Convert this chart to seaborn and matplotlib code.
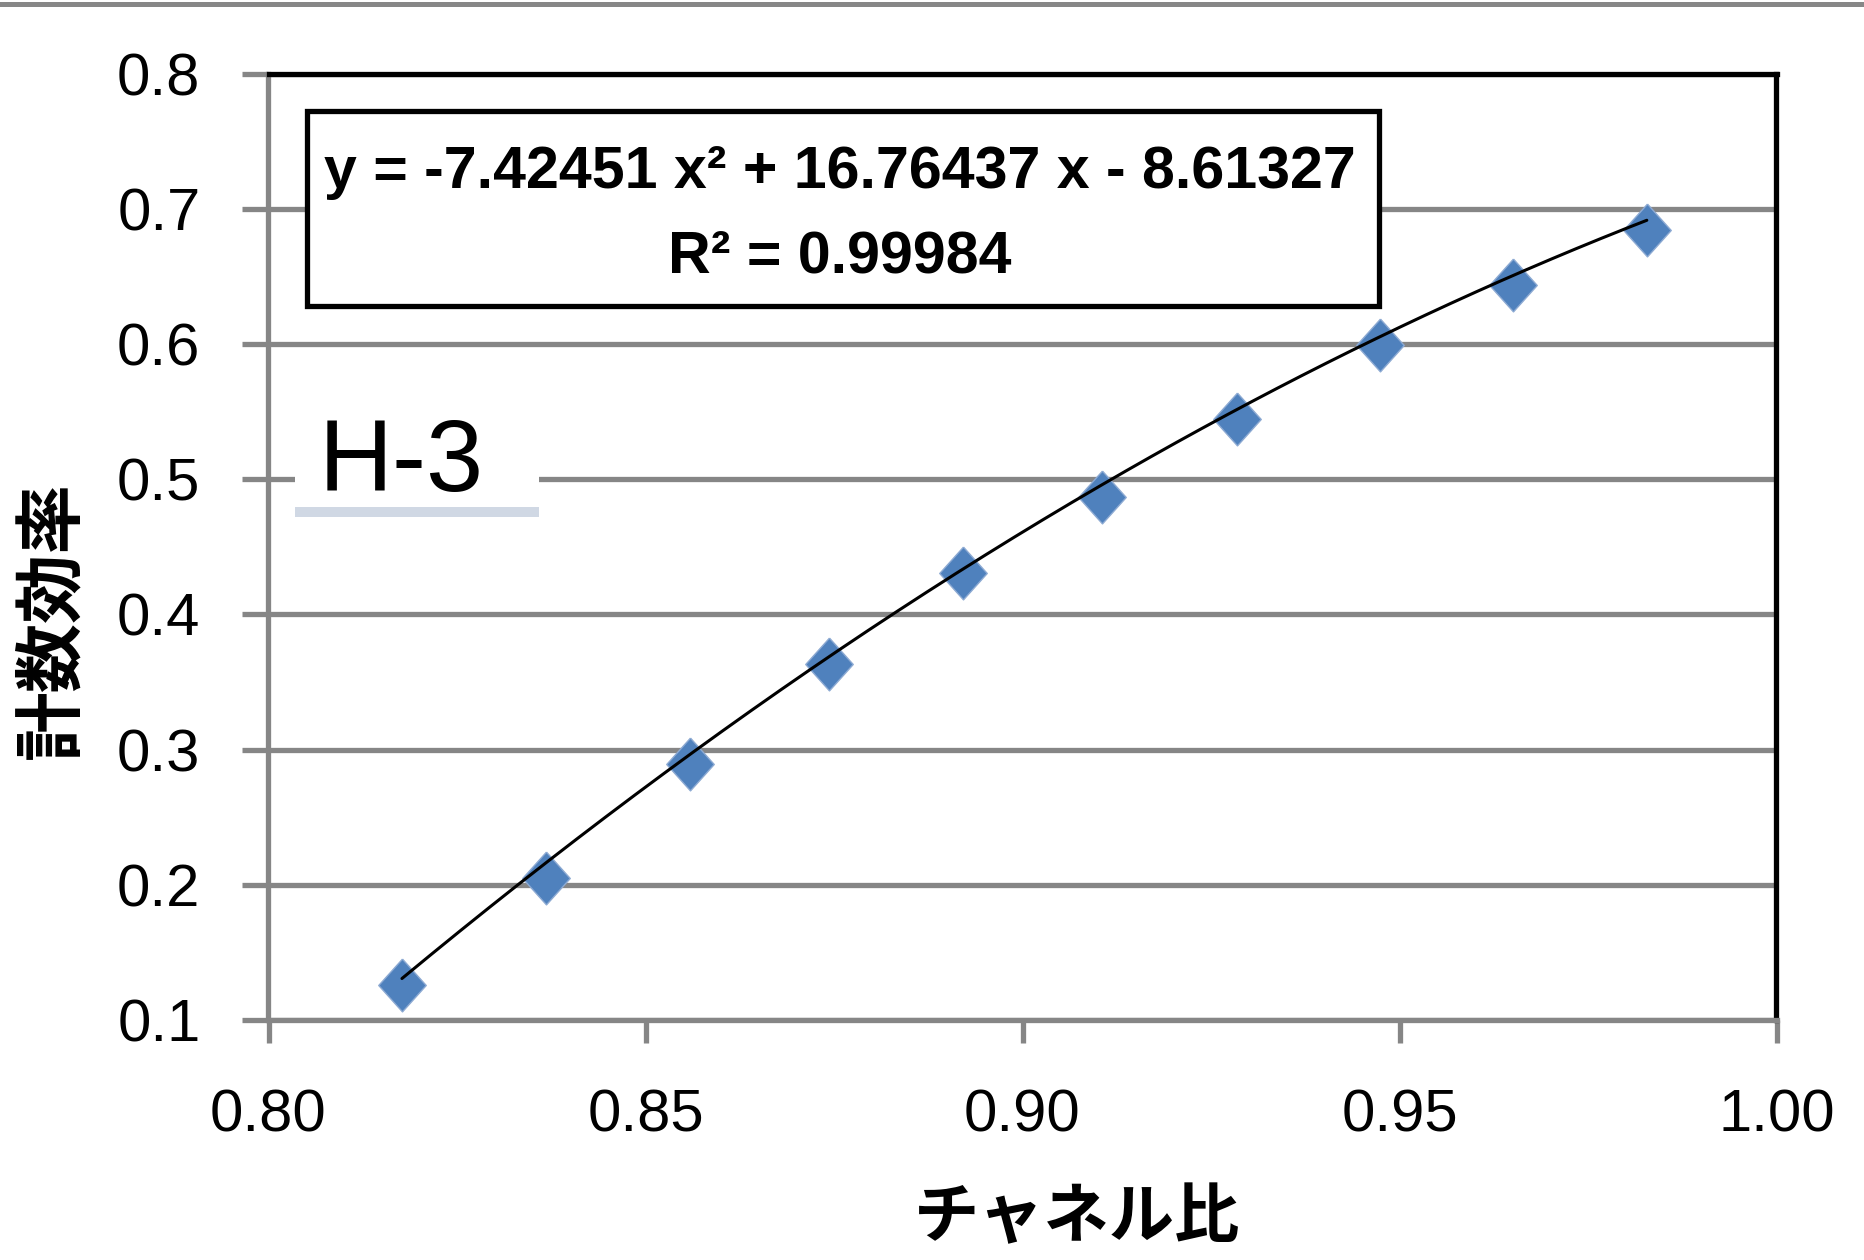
import numpy as np
import pandas as pd
import matplotlib
matplotlib.use("Agg")
import matplotlib.pyplot as plt
import seaborn as sns
from matplotlib.patches import Rectangle

# Measured points: channel ratio vs counting efficiency (H-3 quench curve)
channel_ratio = [0.8177, 0.8368, 0.8559, 0.8743, 0.8921, 0.9106, 0.9284, 0.9474, 0.9650, 0.9828]
efficiency = [0.1259, 0.2050, 0.2893, 0.3633, 0.4306, 0.4868, 0.5445, 0.5992, 0.6436, 0.6843]

# Quadratic trendline coefficients (x^2, x, const) and its R^2
fit_coeffs = [-7.42451, 16.76437, -8.61327]
r_squared = 0.99984

x_ticks = [0.80, 0.85, 0.90, 0.95, 1.00]
x_tick_labels = ["0.80", "0.85", "0.90", "0.95", "1.00"]
y_ticks = [0.1, 0.2, 0.3, 0.4, 0.5, 0.6, 0.7, 0.8]
y_tick_labels = ["0.1", "0.2", "0.3", "0.4", "0.5", "0.6", "0.7", "0.8"]

x_label = "チャネル比"
y_label = "計数効率"
nuclide = "H-3"

W, H = 1865, 1260
GRAY = "#868686"
BLUE = "#4F81BD"

sns.set_style("white")
plt.rcParams["font.family"] = ["Liberation Sans", "DejaVu Sans"]
plt.rcParams["text.color"] = "black"
cjk = ["Noto Sans CJK JP", "DejaVu Sans"]

fig = plt.figure(figsize=(W / 100, H / 100), dpi=100)

# axes box in pixels: x 268.5..1776.5, y 73.5..1020 (from top)
L, R, T, B = 268.5, 1776.5, 73.5, 1020.0
ax = fig.add_axes([L / W, 1 - B / H, (R - L) / W, (B - T) / H])


def ax_x(px):
    return (px - L) / (R - L)


def ax_y(py):
    return (B - py) / (B - T)


pts = pd.DataFrame({"ratio": channel_ratio, "eff": efficiency})
xs = np.linspace(channel_ratio[0], channel_ratio[-1], 300)
curve = pd.DataFrame({"ratio": xs, "eff": np.polyval(fit_coeffs, xs)})

diamond = [(0, 1), (0.9, 0), (0, -1), (-0.9, 0), (0, 1)]
sns.scatterplot(data=pts, x="ratio", y="eff", ax=ax, marker=diamond, s=38 ** 2,
                color=BLUE, edgecolor="#8DAAD3", linewidth=1.0, zorder=3, legend=False)
sns.lineplot(data=curve, x="ratio", y="eff", ax=ax, color="black", lw=2.2,
             zorder=4, legend=False)

ax.set_xlim(0.80, 1.00)
ax.set_ylim(0.1, 0.8)
ax.set_xticks(x_ticks)
ax.set_xticklabels(x_tick_labels)
ax.set_yticks(y_ticks)
ax.set_yticklabels(y_tick_labels)
ax.set_xlabel("")
ax.set_ylabel("")

ax.set_axisbelow(True)
ax.yaxis.grid(True, color=GRAY, lw=3.8)
ax.xaxis.grid(False)

for side, sp in ax.spines.items():
    sp.set_visible(True)
    sp.set_linewidth(3.8)
    sp.set_color(GRAY if side in ("left", "bottom") else "black")

ax.tick_params(axis="y", left=True, direction="out", length=19, width=3.8,
               color=GRAY, pad=30, labelsize=43, labelcolor="black")
ax.tick_params(axis="x", bottom=True, direction="out", length=16.5, width=3.8,
               color=GRAY, pad=33, labelsize=43, labelcolor="black")

# Axis titles
fig.text(1077 / W, 1 - 1218 / H, x_label, ha="center", va="center",
         fontsize=47, fontweight="bold", family=cjk, color="black")
fig.text(52 / W, 1 - 620 / H, y_label, ha="center", va="center", rotation=90,
         fontsize=50, fontweight="bold", family=cjk, color="black")

# Trendline equation box
ax.add_patch(Rectangle((ax_x(307.5), ax_y(306)), ax_x(1379) - ax_x(307.5),
                       ax_y(110.5) - ax_y(306), transform=ax.transAxes,
                       facecolor="white", edgecolor="black", lw=3.8, zorder=5))

a, b, c = fit_coeffs
eq1 = f"y = {a:.5f} x² + {b:.5f} x - {abs(c):.5f}"
eq2 = f"R² = {r_squared:.5f}"
t1 = ax.text(ax_x(840), ax_y(188), eq1, transform=ax.transAxes, ha="center",
             va="baseline", fontsize=40, fontweight="bold", color="black", zorder=6)
t2 = ax.text(ax_x(840), ax_y(273.5), eq2, transform=ax.transAxes, ha="center",
             va="baseline", fontsize=40, fontweight="bold", color="black", zorder=6)

renderer = fig.canvas.get_renderer()
w1 = t1.get_window_extent(renderer).width
size = 40 * 1032 / w1
t1.set_fontsize(size)
t2.set_fontsize(size)

# Nuclide tag with a white backing and a pale underline
ax.add_patch(Rectangle((ax_x(295), ax_y(505)), ax_x(539) - ax_x(295),
                       ax_y(398) - ax_y(505), transform=ax.transAxes,
                       facecolor="white", edgecolor="none", zorder=1))
ax.add_patch(Rectangle((ax_x(295), ax_y(517)), ax_x(539) - ax_x(295),
                       ax_y(507) - ax_y(517), transform=ax.transAxes,
                       facecolor="#D0D8E4", edgecolor="none", zorder=1.1))
tag = ax.text(ax_x(401.5), ax_y(491), nuclide, transform=ax.transAxes,
              ha="center", va="baseline", fontsize=90, color="black", zorder=6)
tw = tag.get_window_extent(renderer).width
if tw > 165:
    tag.set_fontsize(90 * 165 / tw)

# Thin gray rule along the top edge of the figure
fig.add_artist(Rectangle((0, 1 - 7 / H), 1, 5 / H, transform=fig.transFigure,
                         facecolor="#878787", edgecolor="none"))

fig.savefig("out.png", dpi=100)
